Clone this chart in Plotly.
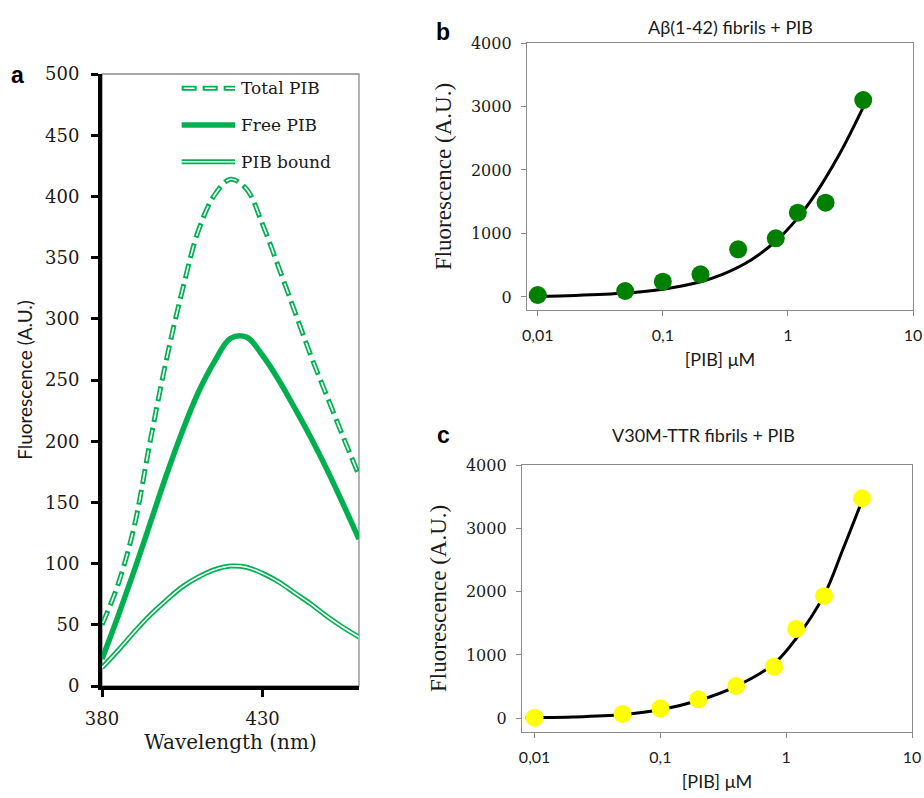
import plotly.graph_objects as go

# ---------------- data ----------------
# panel a: emission spectra
wavelength = [380, 385, 390, 395, 400, 405, 410, 415, 420, 425, 430, 435, 440, 445, 450, 455, 460]
total_pib = [50, 83, 130, 200, 266, 323, 372, 401, 414, 406, 377, 342, 306, 270, 237, 204, 172]
free_pib = [22, 57, 94, 133, 172, 208, 240, 265, 284, 285, 270, 250, 227, 203, 177, 149, 120]
bound_pib = [15, 29, 44, 58, 70, 81, 89, 95, 98, 97, 92, 85, 76, 67, 57, 48, 40]

# panel b: Abeta(1-42) fibrils + PIB
conc_b = [0.01, 0.05, 0.1, 0.2, 0.4, 0.8, 1.2, 2, 4]
fluo_b = [31, 94, 241, 357, 751, 924, 1328, 1485, 3102]
fit_x_b = [0.0085, 0.01, 0.02, 0.05, 0.1, 0.2, 0.3, 0.5, 0.8, 1.2, 1.7, 2.5, 3.2, 4]
fit_y_b = [11, 12, 25, 62, 123, 241, 356, 575, 880, 1246, 1652, 2199, 2600, 2990]

# panel c: V30M-TTR fibrils + PIB
conc_c = [0.01, 0.05, 0.1, 0.2, 0.4, 0.8, 1.2, 2, 4]
fluo_c = [9, 68, 158, 300, 510, 815, 1411, 1932, 3475]
fit_x_c = [0.0085, 0.01, 0.02, 0.05, 0.1, 0.2, 0.4, 0.8, 1.2, 2, 2.8, 4]
fit_y_c = [5, 8, 20, 60, 135, 280, 505, 860, 1260, 1945, 2650, 3430]

tick_vals_log = [0.01, 0.1, 1, 10]
tick_text_log = ["0,01", "0,1", "1", "10"]

legend_labels = ["Total PIB", "Free PIB", "PIB bound"]

GREEN = "#00B050"
DARK_GREEN = "#008000"
YELLOW = "#FFFF00"
GRAY = "#8a8a8a"
TXT = "#1a1a1a"

W, H = 924, 798


def px_x(p):
    return p / W


def px_y(p):
    return 1 - p / H


fig = go.Figure()

# ---- panel a traces ----
fig.add_trace(go.Scatter(x=wavelength, y=total_pib, mode="lines", xaxis="x", yaxis="y",
                         line=dict(color=GREEN, width=5, dash="15px,6px", shape="spline"),
                         showlegend=False, name="Total PIB"))
fig.add_trace(go.Scatter(x=wavelength, y=total_pib, mode="lines", xaxis="x", yaxis="y",
                         line=dict(color="white", width=1.6, dash="0px,2px,11px,8px", shape="spline"),
                         showlegend=False, hoverinfo="skip"))
fig.add_trace(go.Scatter(x=wavelength, y=free_pib, mode="lines", xaxis="x", yaxis="y",
                         line=dict(color=GREEN, width=5.5, shape="spline"),
                         showlegend=False, name="Free PIB"))
fig.add_trace(go.Scatter(x=wavelength, y=bound_pib, mode="lines", xaxis="x", yaxis="y",
                         line=dict(color=GREEN, width=5, shape="spline"),
                         showlegend=False, name="PIB bound"))
fig.add_trace(go.Scatter(x=wavelength, y=bound_pib, mode="lines", xaxis="x", yaxis="y",
                         line=dict(color="white", width=1.6, shape="spline"),
                         showlegend=False, hoverinfo="skip"))

# ---- panel b traces ----
fig.add_trace(go.Scatter(x=fit_x_b, y=fit_y_b, mode="lines", xaxis="x2", yaxis="y2",
                         line=dict(color="black", width=3, shape="spline"), showlegend=False))
fig.add_trace(go.Scatter(x=conc_b, y=fluo_b, mode="markers", xaxis="x2", yaxis="y2",
                         marker=dict(color=DARK_GREEN, size=18), showlegend=False))

# ---- panel c traces ----
fig.add_trace(go.Scatter(x=fit_x_c, y=fit_y_c, mode="lines", xaxis="x3", yaxis="y3",
                         line=dict(color="black", width=3, shape="spline"), showlegend=False))
fig.add_trace(go.Scatter(x=conc_c, y=fluo_c, mode="markers", xaxis="x3", yaxis="y3",
                         marker=dict(color=YELLOW, size=18), showlegend=False))

serif_a = "DejaVu Serif"
serif_bc = "DejaVu Serif"
sans = "Lato"

# ---------------- axes ----------------
fig.update_layout(
    width=W, height=H, autosize=False,
    margin=dict(l=0, r=0, t=0, b=0, pad=0, autoexpand=False),
    paper_bgcolor="white", plot_bgcolor="white",
    xaxis=dict(domain=[px_x(102), px_x(359)], range=[380, 460], tickvals=[380, 430],
               ticks="outside", ticklen=7, tickwidth=3, tickcolor="black",
               showline=True, linewidth=4, linecolor="black", showgrid=False, zeroline=False,
               tickfont=dict(family=serif_a, size=18, color=TXT), ticklabelstandoff=6,
               title=dict(text="Wavelength (nm)", font=dict(family=serif_a, size=20, color=TXT), standoff=8),
               anchor="y", automargin=False),
    yaxis=dict(domain=[px_y(686), px_y(74)], range=[0, 500], dtick=50,
               ticks="outside", ticklen=7, tickwidth=3, tickcolor="black",
               showline=True, linewidth=4, linecolor="black", showgrid=False, zeroline=False,
               tickfont=dict(family=serif_a, size=18, color=TXT), ticklabelstandoff=8,
               title=dict(text="Fluorescence (A.U.)", font=dict(family=sans, size=19, color=TXT), standoff=8),
               anchor="x", automargin=False),
    xaxis2=dict(domain=[px_x(527), px_x(913)], type="log", range=[-2.086, 1],
                tickvals=tick_vals_log, ticktext=tick_text_log,
                ticks="outside", ticklen=5, tickwidth=1.3, tickcolor=GRAY,
                showline=True, mirror=True, linewidth=1.3, linecolor=GRAY, showgrid=False, zeroline=False,
                tickfont=dict(family=sans, size=16, color=TXT), ticklabelstandoff=6,
                title=dict(text="[PIB] μM", font=dict(family=sans, size=18, color=TXT), standoff=10),
                anchor="y2", automargin=False),
    yaxis2=dict(domain=[px_y(310), px_y(43)], range=[-205, 4000], dtick=1000,
                ticks="outside", ticklen=5, tickwidth=1.3, tickcolor=GRAY,
                showline=True, mirror=True, linewidth=1.3, linecolor=GRAY, showgrid=False, zeroline=False,
                tickfont=dict(family=serif_bc, size=16, color=TXT), ticklabelstandoff=6,
                title=dict(text="Fluorescence (A.U.)", font=dict(family="Liberation Serif", size=23, color=TXT), standoff=12),
                anchor="x2", automargin=False),
    xaxis3=dict(domain=[px_x(522), px_x(912)], type="log", range=[-2.1, 1],
                tickvals=tick_vals_log, ticktext=tick_text_log,
                ticks="outside", ticklen=5, tickwidth=1.3, tickcolor=GRAY,
                showline=True, mirror=True, linewidth=1.3, linecolor=GRAY, showgrid=False, zeroline=False,
                tickfont=dict(family=sans, size=16, color=TXT), ticklabelstandoff=6,
                title=dict(text="[PIB] μM", font=dict(family=sans, size=18, color=TXT), standoff=10),
                anchor="y3", automargin=False),
    yaxis3=dict(domain=[px_y(731.7), px_y(465)], range=[-212, 4000], dtick=1000,
                ticks="outside", ticklen=5, tickwidth=1.3, tickcolor=GRAY,
                showline=True, mirror=True, linewidth=1.3, linecolor=GRAY, showgrid=False, zeroline=False,
                tickfont=dict(family=serif_bc, size=16, color=TXT), ticklabelstandoff=6,
                title=dict(text="Fluorescence (A.U.)", font=dict(family="Liberation Serif", size=23, color=TXT), standoff=12),
                anchor="x3", automargin=False),
)

shapes = []
# gray frame of panel a (top and right sides)
shapes.append(dict(type="rect", xref="x domain", yref="y domain", x0=0, x1=1, y0=0, y1=1,
                   line=dict(color=GRAY, width=1.3), layer="below"))

# legend samples for panel a
leg_y = [0.9766, 0.9167, 0.8567]
lx0, lx1 = 0.31, 0.5175
shapes.append(dict(type="line", xref="x domain", yref="y domain", x0=lx0, x1=lx1, y0=leg_y[0], y1=leg_y[0],
                   line=dict(color=GREEN, width=5, dash="15px,6px")))
shapes.append(dict(type="line", xref="x domain", yref="y domain", x0=lx0, x1=lx1, y0=leg_y[0], y1=leg_y[0],
                   line=dict(color="white", width=1.6, dash="0px,2px,11px,8px")))
shapes.append(dict(type="line", xref="x domain", yref="y domain", x0=lx0, x1=lx1, y0=leg_y[1], y1=leg_y[1],
                   line=dict(color=GREEN, width=5.5)))
shapes.append(dict(type="line", xref="x domain", yref="y domain", x0=lx0, x1=lx1, y0=leg_y[2], y1=leg_y[2],
                   line=dict(color=GREEN, width=5)))
shapes.append(dict(type="line", xref="x domain", yref="y domain", x0=lx0, x1=lx1, y0=leg_y[2], y1=leg_y[2],
                   line=dict(color="white", width=1.6)))
fig.update_layout(shapes=shapes)

annotations = []
for lab, yy in zip(legend_labels, leg_y):
    annotations.append(dict(text=lab, xref="x domain", yref="y domain", x=0.532, y=yy,
                            xanchor="left", yanchor="middle", showarrow=False,
                            font=dict(family=serif_a, size=17, color=TXT)))
# panel letters
for letter, x, y in [("a", 17, 75), ("b", 443, 32), ("c", 443, 435)]:
    annotations.append(dict(text=f"<b>{letter}</b>", xref="paper", yref="paper", x=px_x(x), y=px_y(y),
                            xanchor="center", yanchor="middle", showarrow=False,
                            font=dict(family="Liberation Sans", size=23, color="black")))
# panel titles
annotations.append(dict(text="Aβ(1-42) fibrils + PIB", xref="paper", yref="paper", x=px_x(730), y=px_y(27),
                        xanchor="center", yanchor="middle", showarrow=False,
                        font=dict(family=sans, size=18, color=TXT)))
annotations.append(dict(text="V30M-TTR fibrils + PIB", xref="paper", yref="paper", x=px_x(703), y=px_y(435),
                        xanchor="center", yanchor="middle", showarrow=False,
                        font=dict(family=sans, size=18, color=TXT)))
fig.update_layout(annotations=annotations)

# remove the default page margin so the 924x798 figure fills the window exactly
fig.write_html("out.html",
               config={"displayModeBar": False},
               post_script="document.body.style.margin='0';document.body.style.overflow='hidden';")
